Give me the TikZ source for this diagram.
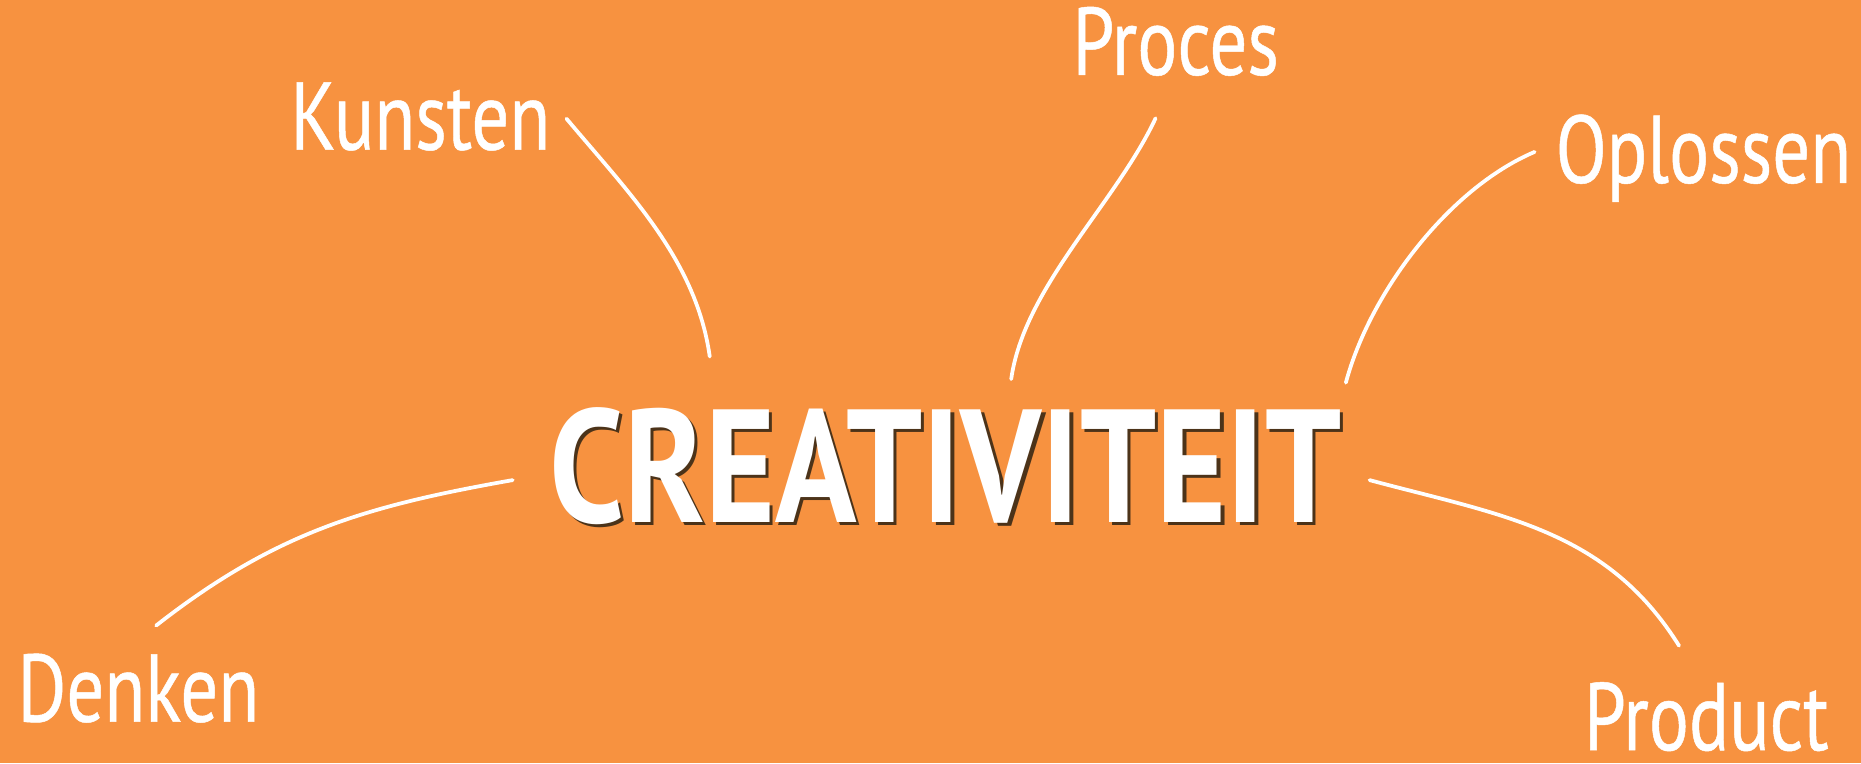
\documentclass[tikz,border=0pt]{standalone}
\usepackage{fontspec}
\setmainfont{PT Sans}
\newfontfamily\titlefont[FakeStretch=0.835]{PT Sans}
\newfontfamily\branchfont[FakeStretch=0.78, FakeBold=0.5]{PT Sans}
\usepackage{tikz}
\definecolor{sheet}{RGB}{247,146,64}
\colorlet{word shadow}{black!60!brown}
\colorlet{word fill}{white}
\def\titlesize{\titlefont\bfseries\fontsize{38.6}{40}\selectfont}
\tikzset{branch/.style={text=word fill, font=\branchfont\fontsize{23}{25}\selectfont, inner sep=0pt, anchor=base west},
    centre/.style={font=\titlesize, inner sep=0pt, anchor=base west},
    link/.style={draw=word fill, line width=0.9pt, line cap=round}}

\begin{document}
\begin{tikzpicture}[x=0.1mm, y=0.1mm]
    \fill[sheet] (0,0) rectangle (1568,643);
    \useasboundingbox (0,0) rectangle (1568,643);
    \node[centre, text=word shadow] at (465,200) {CREATIVITEIT};
    \node[centre, text=word fill] (title) at (462,203) {CREATIVITEIT};
    \node[branch] (kunsten) at (244,517) {Kunsten};
    \node[branch] (proces) at (903,580) {Proces};
    \node[branch] (oplossen) at (1310,489) {Oplossen};
    \node[branch] (denken) at (14,35) {Denken};
    \node[branch] (product) at (1334,11) {Product};
    \draw[link] ([xshift=1.3mm, yshift=2.6mm]kunsten.base east) to[out=-50, in=98, looseness=0.9] ([xshift=13.6mm, yshift=4.2mm]title.north west);
    \draw[link] ([xshift=-1.7mm, yshift=-3.5mm]proces.south) to[out=245, in=82, looseness=0.8] ([xshift=39mm, yshift=2.3mm]title.north west);
    \draw[link] ([xshift=-1.7mm, yshift=2.6mm]oplossen.base west) to[out=203, in=75, looseness=0.8] ([xshift=0.3mm, yshift=2mm]title.north east);
    \draw[link] ([xshift=-3mm, yshift=-1.2mm]title.west) to[out=190, in=38] ([xshift=1.5mm, yshift=2.3mm]denken.north);
    \draw[link] ([xshift=2.3mm, yshift=-1.2mm]title.east) to[out=-15, in=122] ([xshift=-2.3mm, yshift=3mm]product.north);
\end{tikzpicture}
\end{document}
